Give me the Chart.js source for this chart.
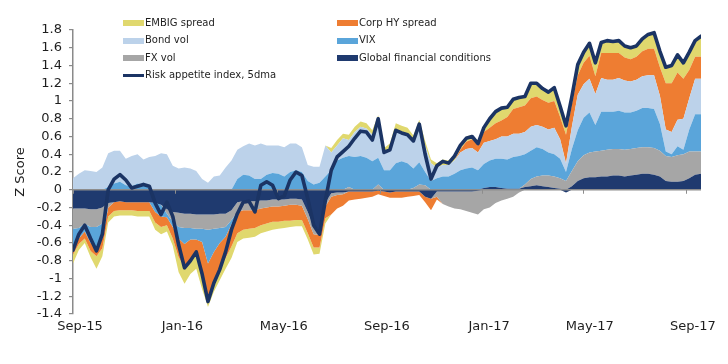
<!DOCTYPE html>
<html><head><meta charset="utf-8">
<script src="https://cdn.jsdelivr.net/npm/chart.js@4.4.1/dist/chart.umd.min.js"></script>
<style>
html,body{margin:0;padding:0;background:#fff;}
#wrap{position:relative;width:728px;height:364px;overflow:hidden;background:#fff;}
canvas{position:absolute;left:0;top:0;}
.lg{position:absolute;font-family:"DejaVu Sans",sans-serif;font-size:10px;color:#1e1e1e;white-space:nowrap;line-height:12px;}
.sw{position:absolute;width:21px;height:6px;}
</style></head><body>
<div id="wrap"><canvas id="c" width="728" height="364"></canvas><div id="legend"></div></div>
<script>
const dates = [
'2015-09-01','2015-09-08','2015-09-15','2015-09-22','2015-09-29','2015-10-06','2015-10-13','2015-10-20','2015-10-27','2015-11-03',
'2015-11-10','2015-11-17','2015-11-24','2015-12-01','2015-12-08','2015-12-15','2015-12-22','2015-12-29','2016-01-05','2016-01-12',
'2016-01-19','2016-01-26','2016-02-02','2016-02-09','2016-02-16','2016-02-23','2016-03-01','2016-03-08','2016-03-15','2016-03-22',
'2016-03-29','2016-04-05','2016-04-12','2016-04-19','2016-04-26','2016-05-03','2016-05-10','2016-05-17','2016-05-24','2016-05-31',
'2016-06-07','2016-06-14','2016-06-21','2016-06-28','2016-07-05','2016-07-12','2016-07-19','2016-07-26','2016-08-02','2016-08-09',
'2016-08-16','2016-08-23','2016-08-30','2016-09-06','2016-09-13','2016-09-20','2016-09-27','2016-10-04','2016-10-11','2016-10-18',
'2016-10-25','2016-11-01','2016-11-08','2016-11-15','2016-11-22','2016-11-29','2016-12-06','2016-12-13','2016-12-20','2016-12-27',
'2017-01-03','2017-01-10','2017-01-17','2017-01-24','2017-01-31','2017-02-07','2017-02-14','2017-02-21','2017-02-28','2017-03-07',
'2017-03-14','2017-03-21','2017-03-28','2017-04-04','2017-04-11','2017-04-18','2017-04-25','2017-05-02','2017-05-09','2017-05-16',
'2017-05-23','2017-05-30','2017-06-06','2017-06-13','2017-06-20','2017-06-27','2017-07-04','2017-07-11','2017-07-18','2017-07-25',
'2017-08-01','2017-08-08','2017-08-15','2017-08-22','2017-08-29','2017-09-05','2017-09-12','2017-09-19'];

const gfc = [
-0.21,-0.21,-0.21,-0.22,-0.22,-0.20,-0.15,-0.14,-0.13,-0.14,
-0.14,-0.14,-0.14,-0.14,-0.15,-0.17,-0.22,-0.25,-0.26,-0.27,
-0.27,-0.28,-0.28,-0.28,-0.28,-0.27,-0.27,-0.23,-0.14,-0.13,
-0.13,-0.13,-0.12,-0.12,-0.11,-0.11,-0.11,-0.10,-0.10,-0.11,
-0.25,-0.42,-0.45,-0.15,-0.04,-0.03,-0.03,-0.02,-0.02,-0.02,
-0.02,-0.02,-0.01,-0.02,-0.03,-0.02,-0.02,-0.02,-0.02,-0.02,
-0.08,-0.10,-0.02,-0.02,-0.02,-0.02,-0.02,-0.02,-0.02,-0.01,
0.02,0.03,0.03,0.02,0.01,0.01,0.01,0.03,0.04,0.05,
0.04,0.03,0.02,0.01,-0.03,0.04,0.10,0.13,0.14,0.14,
0.15,0.15,0.16,0.16,0.15,0.16,0.17,0.18,0.18,0.17,
0.15,0.10,0.09,0.09,0.10,0.13,0.17,0.18];

const fxVol = [
-0.23,-0.22,-0.17,-0.20,-0.20,-0.18,-0.05,0,0,0,
0,0,0,0,0,0,-0.05,-0.11,-0.16,-0.16,
-0.16,-0.16,-0.16,-0.17,-0.16,-0.16,-0.15,-0.11,-0.11,-0.10,
-0.10,-0.10,-0.09,-0.08,-0.08,-0.08,-0.07,-0.07,-0.07,-0.07,
-0.08,-0.08,-0.06,-0.04,-0.04,-0.03,-0.02,0.03,0,0,
0,0,0.06,0,0,0,0,0,0.02,0.06,
0.05,0,-0.06,-0.14,-0.17,-0.19,-0.20,-0.22,-0.24,-0.27,
-0.22,-0.20,-0.15,-0.12,-0.10,-0.08,-0.03,0.03,0.08,0.10,
0.12,0.13,0.13,0.12,0.10,0.17,0.22,0.26,0.28,0.29,
0.29,0.30,0.30,0.30,0.30,0.30,0.30,0.30,0.30,0.30,
0.29,0.28,0.28,0.30,0.30,0.30,0.26,0.25];

const vix = [
-0.22,-0.12,-0.09,-0.18,-0.22,-0.17,0.03,0.07,0.09,0.05,
0.04,0.07,0.06,0.02,-0.10,-0.13,-0.04,-0.06,-0.13,-0.18,
-0.13,-0.12,-0.15,-0.38,-0.26,-0.17,-0.11,-0.05,0.12,0.17,
0.16,0.12,0.12,0.17,0.19,0.18,0.15,0.20,0.22,0.20,
0.10,0.06,0.08,0.15,0.22,0.33,0.36,0.35,0.37,0.38,
0.36,0.32,0.30,0.22,0.22,0.30,0.32,0.30,0.22,0.25,
0.15,0.10,0.13,0.15,0.15,0.18,0.22,0.24,0.25,0.22,
0.27,0.30,0.32,0.33,0.33,0.36,0.37,0.34,0.32,0.33,
0.30,0.26,0.25,0.22,0.10,0.25,0.35,0.42,0.45,0.30,
0.44,0.43,0.42,0.43,0.42,0.41,0.42,0.44,0.44,0.44,
0.30,0.05,0.03,0.10,0.05,0.25,0.42,0.42];

const bondVol = [
0.13,0.18,0.22,0.21,0.20,0.25,0.38,0.37,0.35,0.30,
0.34,0.33,0.28,0.35,0.38,0.41,0.40,0.27,0.24,0.25,
0.24,0.21,0.12,0.08,0.15,0.16,0.25,0.33,0.33,0.32,
0.36,0.38,0.40,0.33,0.31,0.32,0.33,0.32,0.30,0.28,
0.18,0.20,0.18,0.35,0.20,0.17,0.22,0.18,0.28,0.33,
0.33,0.30,0.40,0.20,0.25,0.38,0.32,0.33,0.30,0.40,
0.30,0.20,0.12,0.13,0.13,0.15,0.20,0.22,0.22,0.20,
0.24,0.22,0.22,0.25,0.26,0.26,0.25,0.25,0.27,0.25,
0.25,0.26,0.30,0.22,0.10,0.25,0.40,0.38,0.38,0.35,
0.38,0.36,0.36,0.37,0.36,0.35,0.35,0.36,0.37,0.38,
0.32,0.25,0.25,0.30,0.35,0.35,0.40,0.40];

const corpHY = [
-0.07,-0.06,-0.08,-0.09,-0.11,-0.11,-0.10,-0.10,-0.10,-0.09,
-0.09,-0.10,-0.10,-0.10,-0.12,-0.12,-0.09,-0.13,-0.21,-0.26,
-0.22,-0.19,-0.39,-0.42,-0.32,-0.27,-0.24,-0.25,-0.24,-0.22,
-0.21,-0.20,-0.19,-0.18,-0.17,-0.17,-0.17,-0.18,-0.17,-0.16,
-0.16,-0.15,-0.14,-0.13,-0.20,-0.15,-0.13,-0.10,-0.09,-0.08,
-0.07,-0.06,-0.04,-0.05,-0.06,-0.07,-0.07,-0.06,-0.05,-0.04,
-0.06,-0.13,-0.03,0,0,0,0.03,0.08,0.10,0.08,
0.12,0.15,0.18,0.18,0.22,0.28,0.30,0.30,0.32,0.32,
0.30,0.30,0.30,0.25,0.32,0.25,0.22,0.24,0.26,0.20,
0.28,0.30,0.30,0.28,0.26,0.25,0.26,0.28,0.30,0.30,
0.32,0.52,0.55,0.53,0.45,0.32,0.25,0.25];

const embig = [
-0.10,-0.07,-0.05,-0.07,-0.14,-0.09,-0.07,-0.06,-0.06,-0.06,
-0.06,-0.06,-0.06,-0.06,-0.08,-0.08,-0.07,-0.08,-0.17,-0.19,
-0.17,-0.14,-0.14,-0.07,-0.13,-0.15,-0.12,-0.13,-0.10,-0.10,
-0.10,-0.10,-0.09,-0.09,-0.09,-0.08,-0.08,-0.07,-0.07,-0.07,
-0.07,-0.08,-0.07,-0.06,0.05,0.06,0.05,0.06,0.06,0.06,
0.06,0.05,0.08,0.05,0.05,0.07,0.08,0.07,0.07,0.08,
0.05,0.04,0.05,0.06,0.05,0.07,0.07,0.06,0.05,0.05,
0.06,0.12,0.15,0.15,0.12,0.11,0.10,0.10,0.17,0.15,
0.13,0.12,0.15,0.12,0.11,0.10,0.12,0.12,0.14,0.15,
0.12,0.14,0.13,0.14,0.13,0.13,0.12,0.14,0.16,0.18,
0.18,0.18,0.20,0.20,0.18,0.20,0.18,0.23];

const riskIndex = [
-0.68,-0.50,-0.40,-0.55,-0.69,-0.50,0.00,0.12,0.17,0.11,
0.02,0.04,0.06,0.04,-0.15,-0.28,-0.14,-0.30,-0.62,-0.88,
-0.80,-0.70,-0.95,-1.26,-1.05,-0.90,-0.70,-0.45,-0.27,-0.14,
-0.13,-0.25,0.05,0.09,0.05,-0.10,-0.07,0.11,0.20,0.16,
-0.10,-0.40,-0.50,-0.12,0.22,0.37,0.43,0.49,0.58,0.66,
0.65,0.56,0.80,0.42,0.45,0.67,0.64,0.62,0.55,0.74,
0.40,0.12,0.27,0.32,0.30,0.38,0.50,0.58,0.60,0.52,
0.70,0.80,0.88,0.92,0.93,1.02,1.04,1.05,1.20,1.20,
1.14,1.10,1.15,0.94,0.72,1.05,1.41,1.55,1.65,1.43,
1.66,1.68,1.67,1.68,1.62,1.60,1.62,1.70,1.75,1.77,
1.56,1.38,1.40,1.52,1.43,1.55,1.68,1.73];

const xTickDates = ['2015-09-01','2016-01-01','2016-05-01','2016-09-01','2017-01-01','2017-05-01','2017-09-01'];
const xTickLabels = ['Sep-15','Jan-16','May-16','Sep-16','Jan-17','May-17','Sep-17'];
const yTickValues = [-1.4,-1.2,-1,-0.8,-0.6,-0.4,-0.2,0,0.2,0.4,0.6,0.8,1,1.2,1.4,1.6,1.8];
const yTickLabels = ['-1.4','-1.2','-1','-0.8','-0.6','-0.4','-0.2','0','0.2','0.4','0.6','0.8','1','1.2','1.4','1.6','1.8'];

const T0 = Date.parse('2015-09-01T00:00:00Z');
const dayOf = s => Math.round((Date.parse(s + 'T00:00:00Z') - T0) / 86400000);
const days = dates.map(dayOf);
const xTickDays = xTickDates.map(dayOf);
const lastDay = days[days.length - 1];

const components = [
  {label: 'Global financial conditions', values: gfc, color: '#1f3a6f'},
  {label: 'FX vol', values: fxVol, color: '#a6a6a6'},
  {label: 'VIX', values: vix, color: '#5aa5da'},
  {label: 'Bond vol', values: bondVol, color: '#bcd2ea'},
  {label: 'Corp HY spread', values: corpHY, color: '#ee7d32'},
  {label: 'EMBIG spread', values: embig, color: '#e0d86e'}
];
const lineColor = '#1b3464';

const datasets = [{
  label: 'Risk appetite index, 5dma',
  data: riskIndex.map((v, i) => ({x: days[i], y: v})),
  stack: 'risk', borderColor: lineColor, borderWidth: 3.6, pointRadius: 0,
  fill: false, tension: 0, borderJoinStyle: 'round', borderCapStyle: 'round'
}];
['pos', 'neg'].forEach(side => {
  components.forEach((c, j) => {
    datasets.push({
      label: c.label + ' ' + side,
      data: c.values.map((v, i) => ({x: days[i], y: side === 'pos' ? Math.max(v, 0) : Math.min(v, 0)})),
      stack: side, backgroundColor: c.color, borderColor: 'rgba(0,0,0,0)', borderWidth: 0,
      pointRadius: 0, tension: 0, fill: j === 0 ? 'origin' : '-1'
    });
  });
});

const zeroLine = {
  id: 'zeroLine',
  afterDatasetDraw(chart, args) {
    if (args.index !== 1) return;
    const {ctx, chartArea} = chart;
    const xs = chart.scales.x, ys = chart.scales.y;
    const y0 = ys.getPixelForValue(0);
    ctx.save();
    ctx.strokeStyle = '#8d8d8d';
    ctx.lineWidth = 1.6;
    ctx.beginPath();
    ctx.moveTo(chartArea.left, y0);
    ctx.lineTo(chartArea.right, y0);
    ctx.stroke();
    ctx.lineWidth = 1;
    ctx.beginPath();
    xTickDays.forEach(d => {
      const px = Math.round(xs.getPixelForValue(d)) + 0.5;
      ctx.moveTo(px, y0);
      ctx.lineTo(px, y0 + 4);
    });
    ctx.stroke();
    ctx.restore();
  }
};

const font13 = {family: 'DejaVu Sans', size: 13};
new Chart(document.getElementById('c'), {
  type: 'line',
  data: {datasets},
  plugins: [zeroLine],
  options: {
    responsive: false, animation: false, devicePixelRatio: 1,
    layout: {padding: {left: 0, right: 27, top: 30, bottom: 30}},
    plugins: {legend: {display: false}, tooltip: {enabled: false}},
    elements: {line: {borderWidth: 0}},
    scales: {
      x: {
        type: 'linear', min: 0, max: lastDay,
        afterBuildTicks: s => { s.ticks = xTickDays.map(v => ({value: v})); },
        ticks: {callback: (v, i) => xTickLabels[i], font: font13, color: '#1e1e1e', padding: 5,
                labelOffset: 7, maxRotation: 0, autoSkip: false},
        grid: {display: false, drawTicks: false},
        border: {display: false},
        afterFit: s => { s.height = 20; }
      },
      y: {
        stacked: true, min: -1.4, max: 1.8,
        afterBuildTicks: s => { s.ticks = yTickValues.map(v => ({value: v})); },
        ticks: {callback: (v, i) => yTickLabels[i], font: font13, color: '#1e1e1e', padding: 7, autoSkip: false},
        grid: {drawOnChartArea: false, drawTicks: true, tickLength: 4, tickColor: '#8a8a8a', lineWidth: 1.2},
        border: {display: true, color: '#8a8a8a', width: 1.5},
        title: {display: true, text: 'Z Score', font: {family: 'DejaVu Sans', size: 13}, color: '#1e1e1e', padding: {top: 13, bottom: 0}},
        afterFit: s => { s.width = 73; }
      }
    }
  }
});

// HTML legend
const legendItems = [
  {label: 'EMBIG spread', color: '#e0d86e', col: 0, row: 0},
  {label: 'Corp HY spread', color: '#ee7d32', col: 1, row: 0},
  {label: 'Bond vol', color: '#bcd2ea', col: 0, row: 1},
  {label: 'VIX', color: '#5aa5da', col: 1, row: 1},
  {label: 'FX vol', color: '#a6a6a6', col: 0, row: 2},
  {label: 'Global financial conditions', color: '#1f3a6f', col: 1, row: 2},
  {label: 'Risk appetite index, 5dma', color: lineColor, col: 0, row: 3, line: true}
];
const colX = [123, 337], rowY = [23, 40.5, 58, 75.5];
const lg = document.getElementById('legend');
legendItems.forEach(it => {
  const sw = document.createElement('div');
  sw.className = 'sw';
  sw.style.left = colX[it.col] + 'px';
  sw.style.background = it.color;
  if (it.line) { sw.style.height = '3px'; sw.style.top = (rowY[it.row] - 1.5) + 'px'; }
  else { sw.style.top = (rowY[it.row] - 3) + 'px'; }
  lg.appendChild(sw);
  const t = document.createElement('div');
  t.className = 'lg';
  t.textContent = it.label;
  t.style.left = (colX[it.col] + 22) + 'px';
  t.style.top = (rowY[it.row] - 6.5) + 'px';
  lg.appendChild(t);
});
</script>
</body></html>
